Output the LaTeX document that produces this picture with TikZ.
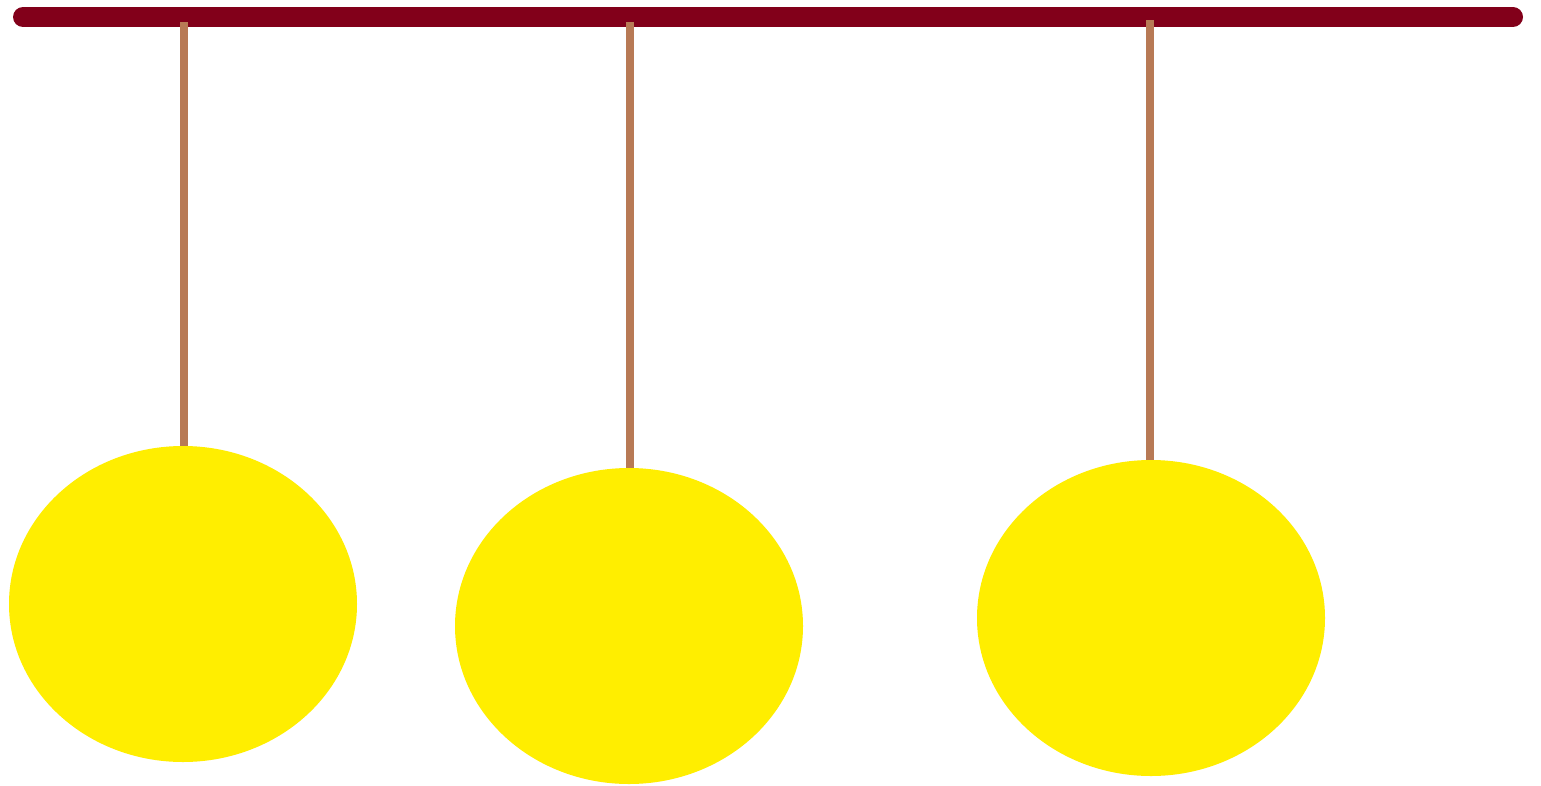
\documentclass[tikz,border=0pt]{standalone}
\definecolor{barred}{HTML}{82001A}
\definecolor{stringc}{HTML}{B87A55}
\definecolor{ballyel}{HTML}{FFEE00}
\tikzset{
  rod/.style={draw=barred, line width=20pt, line cap=round},
  stringline/.style={draw=stringc, line width=8pt},
  ball/.style={ellipse, fill=ballyel, minimum width=348pt, minimum height=316pt, inner sep=0pt},
}
\usetikzlibrary{shapes.geometric}
\begin{document}
\begin{tikzpicture}[x=1pt,y=-1pt]
\useasboundingbox (0,0) rectangle (1541,785);
\fill[white] (0,0) rectangle (1541,785);
\coordinate (barL) at (23,17);
\coordinate (barR) at (1513,17);
\draw[rod] (barL) -- (barR);
\coordinate (t1) at (184,22);
\coordinate (t2) at (630,22);
\coordinate (t3) at (1150,20);
\node[ball] (b1) at (183,604) {};
\node[ball] (b2) at (629,626) {};
\node[ball] (b3) at (1151,618) {};
\draw[stringline] (t1) -- (t1 |- b1.north);
\draw[stringline] (t2) -- (t2 |- b2.north);
\draw[stringline] (t3) -- (t3 |- b3.north);
\end{tikzpicture}
\end{document}
